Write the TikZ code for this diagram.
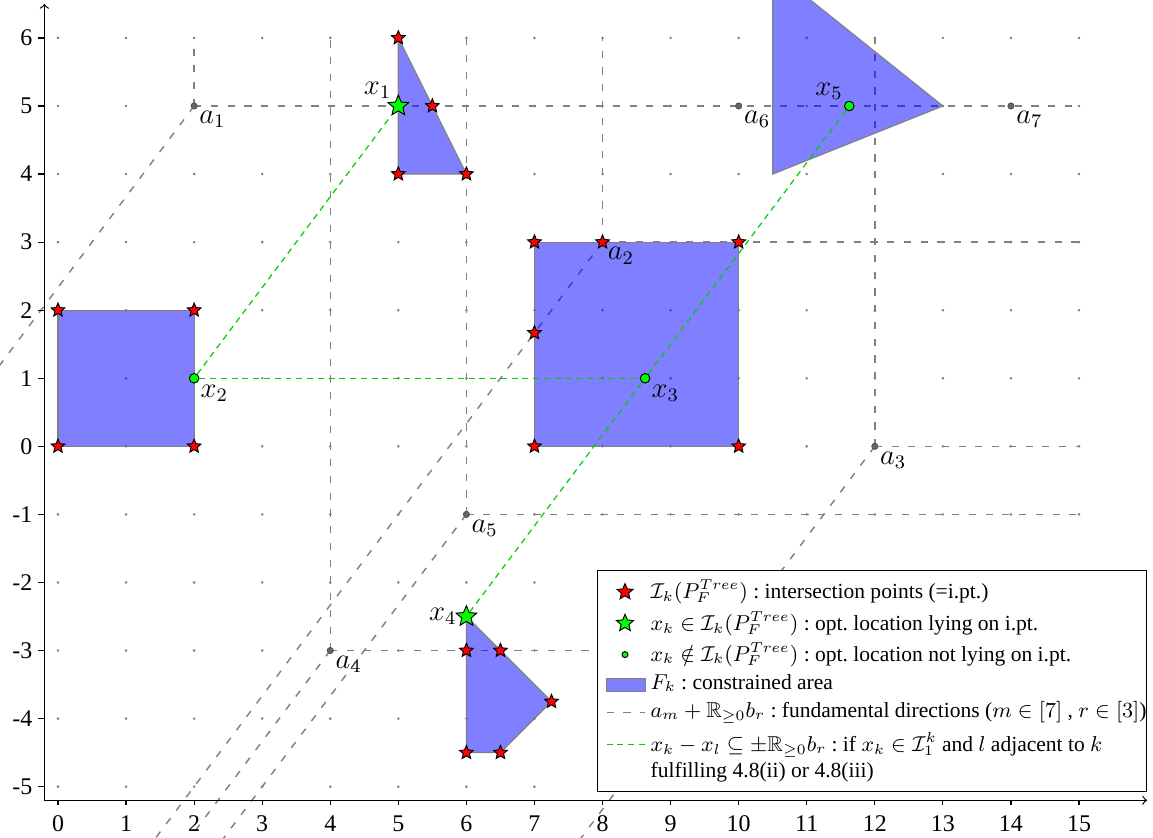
\documentclass[tikz,border=0pt]{standalone}
\usepackage{amsmath}
\usepackage{amssymb}
\usepackage{fontspec}
\setmainfont{Liberation Serif}
\usepackage{tikz}
\usetikzlibrary{shapes.geometric,positioning,calc}
\usepackage{xcolor}
\frenchspacing

\begin{document}
\begin{tikzpicture}[
    >=to,
    ipt/.style={star, star points=5, star point ratio=2.2, draw=black, fill=red, line width=0.4pt, inner sep=0pt, minimum size=6pt},
    optstar/.style={star, star points=5, star point ratio=2.2, draw=black, fill=green, line width=0.4pt, inner sep=0pt, minimum size=9pt},
    optpt/.style={circle, draw=black, fill=green, line width=0.4pt, inner sep=0pt, minimum size=4pt},
    apt/.style={circle, draw=black!70, fill=gray!80!black, line width=0.3pt, inner sep=0pt, minimum size=2.6pt},
    area/.style={fill=blue, fill opacity=0.5, draw=gray, line width=0.5pt},
    fund/.style={draw=gray, dash pattern=on 3pt off 4pt, line width=0.6pt},
    adj/.style={draw=green!80!black, dash pattern=on 2.5pt off 2pt, line width=0.5pt},
    lbl/.style={font=\large, inner sep=1pt},
    legtext/.style={anchor=base west, inner sep=0pt, font=\fontsize{9}{11}\selectfont}
]

% picture frame
\useasboundingbox (-0.852,-5.74) rectangle (16.087,6.557);
\clip (-0.852,-5.74) rectangle (16.087,6.557);

% grid points
\foreach \x in {0,...,15}
  \foreach \y in {-5,...,6}
    \fill[gray] (\x,\y) circle (0.6pt);

% points a_m and directions
\foreach \m/\px/\py in {1/2/5, 2/8/3, 3/12/0, 4/4/-3, 5/6/-1, 6/10/5, 7/14/5}
  \coordinate (a\m) at (\px,\py);
\coordinate (xend) at (15,0);
\coordinate (ytop) at (0,6);
\coordinate (b3) at (-3,-4);

% fundamental directions
\foreach \m in {1,...,5} {
  \draw[fund] (a\m) -- (a\m -| xend);
  \draw[fund] (a\m) -- (a\m |- ytop);
  \draw[fund] (a\m) -- ($(a\m)+3*(b3)$);
}

% constrained areas F_k
\draw[area] (0,0) rectangle (2,2);
\draw[area] (5,6) -- (5,4) -- (6,4) -- cycle;
\draw[area] (7,0) rectangle (10,3);
\draw[area] (6,-2.5) -- (7.25,-3.75) -- (6.5,-4.5) -- (6,-4.5) -- cycle;
\draw[area] (10.5,4) -- (13,5) -- (10.5,7) -- cycle;

% a_m
\foreach \m in {1,...,7}
  \node[apt, label={[lbl]below right:$a_{\m}$}] (pa\m) at (a\m) {};

% intersection points
\foreach \p [count=\i] in {(0,0),(2,0),(0,2),(2,2),(5,6),(5,4),(6,4),(5.5,5),(7,0),(10,0),(7,3),(8,3),(10,3),(7,5/3),(6,-3),(6.5,-3),(7.25,-3.75),(6,-4.5),(6.5,-4.5)}
  \node[ipt] (s\i) at \p {};

% optimal locations
\node[optstar, label={[lbl]above left:$x_1$}] (x1) at (5,5) {};
\node[optpt, label={[lbl]below right:$x_2$}] (x2) at (2,1) {};
\node[optpt, label={[lbl]below right:$x_3$}] (x3) at (8.625,1) {};
\node[optstar, label={[lbl]left:$x_4$}] (x4) at (6,-2.5) {};
\node[optpt, label={[lbl]above left:$x_5$}] (x5) at (11.625,5) {};

% adjacent locations
\draw[adj] (x2) -- (x1);
\draw[adj] (x2) -- (x3);
\draw[adj] (x4) -- (x3);
\draw[adj] (x3) -- (x5);

% axes
\draw[->, line width=0.5pt] (-0.2,-5.2) -- (16,-5.2);
\draw[->, line width=0.5pt] (-0.2,-5.2) -- (-0.2,6.5);
\foreach \x in {0,...,15} {
  \draw[line width=0.5pt] (\x,-5.2) -- (\x,-5.27);
  \node[anchor=north, inner sep=0pt] (tx\x) at (\x,-5.42) {\x};
}
\foreach \y in {-5,...,6} {
  \draw[line width=0.5pt] (-0.2,\y) -- (-0.29,\y);
  \node[anchor=east, inner sep=0pt] (ty\y) at (-0.37,\y) {\y};
}

% legend
\node[draw, fill=white, line width=0.5pt, minimum width=8.06cm, minimum height=3.24cm, inner sep=0pt, anchor=north west] (legend) at (7.92,-1.82) {};
\node[ipt, minimum size=7pt] (lg1) at (8.33,-2.14) {};
\node[optstar, minimum size=7.5pt] (lg2) at (8.33,-2.60) {};
\node[optpt, minimum size=2.5pt] (lg3) at (8.33,-3.06) {};
\draw[area] (8.06,-3.60) rectangle (8.63,-3.41);
\draw[fund] (8.06,-3.91) -- (8.63,-3.91);
\draw[adj] (8.06,-4.38) -- (8.63,-4.38);
\node[legtext] (lt1) at (8.70,-2.235) {$\mathcal{I}_k(P_F^{Tree})$ : intersection points (=i.pt.)};
\node[legtext] (lt2) at (8.70,-2.706) {$x_k\in\mathcal{I}_k(P_F^{Tree})$ : opt. location lying on i.pt.};
\node[legtext] (lt3) at (8.70,-3.16) {$x_k\notin\mathcal{I}_k(P_F^{Tree})$ : opt. location not lying on i.pt.};
\node[legtext] (lt4) at (8.70,-3.57) {$F_k$ : constrained area};
\node[legtext] (lt5) at (8.70,-3.985) {$a_m+\mathbb{R}_{\geq 0}b_r$ : fundamental directions ($m\in[7]$ , $r\in[3]$)};
\node[legtext, align=left] (lt6) at (8.70,-4.87) {$x_k-x_l\subseteq\pm\mathbb{R}_{\geq 0}b_r$ : if $x_k\in\mathcal{I}_1^k$ and $l$ adjacent to $k$\\fulfilling 4.8(ii) or 4.8(iii)};

\end{tikzpicture}
\end{document}
